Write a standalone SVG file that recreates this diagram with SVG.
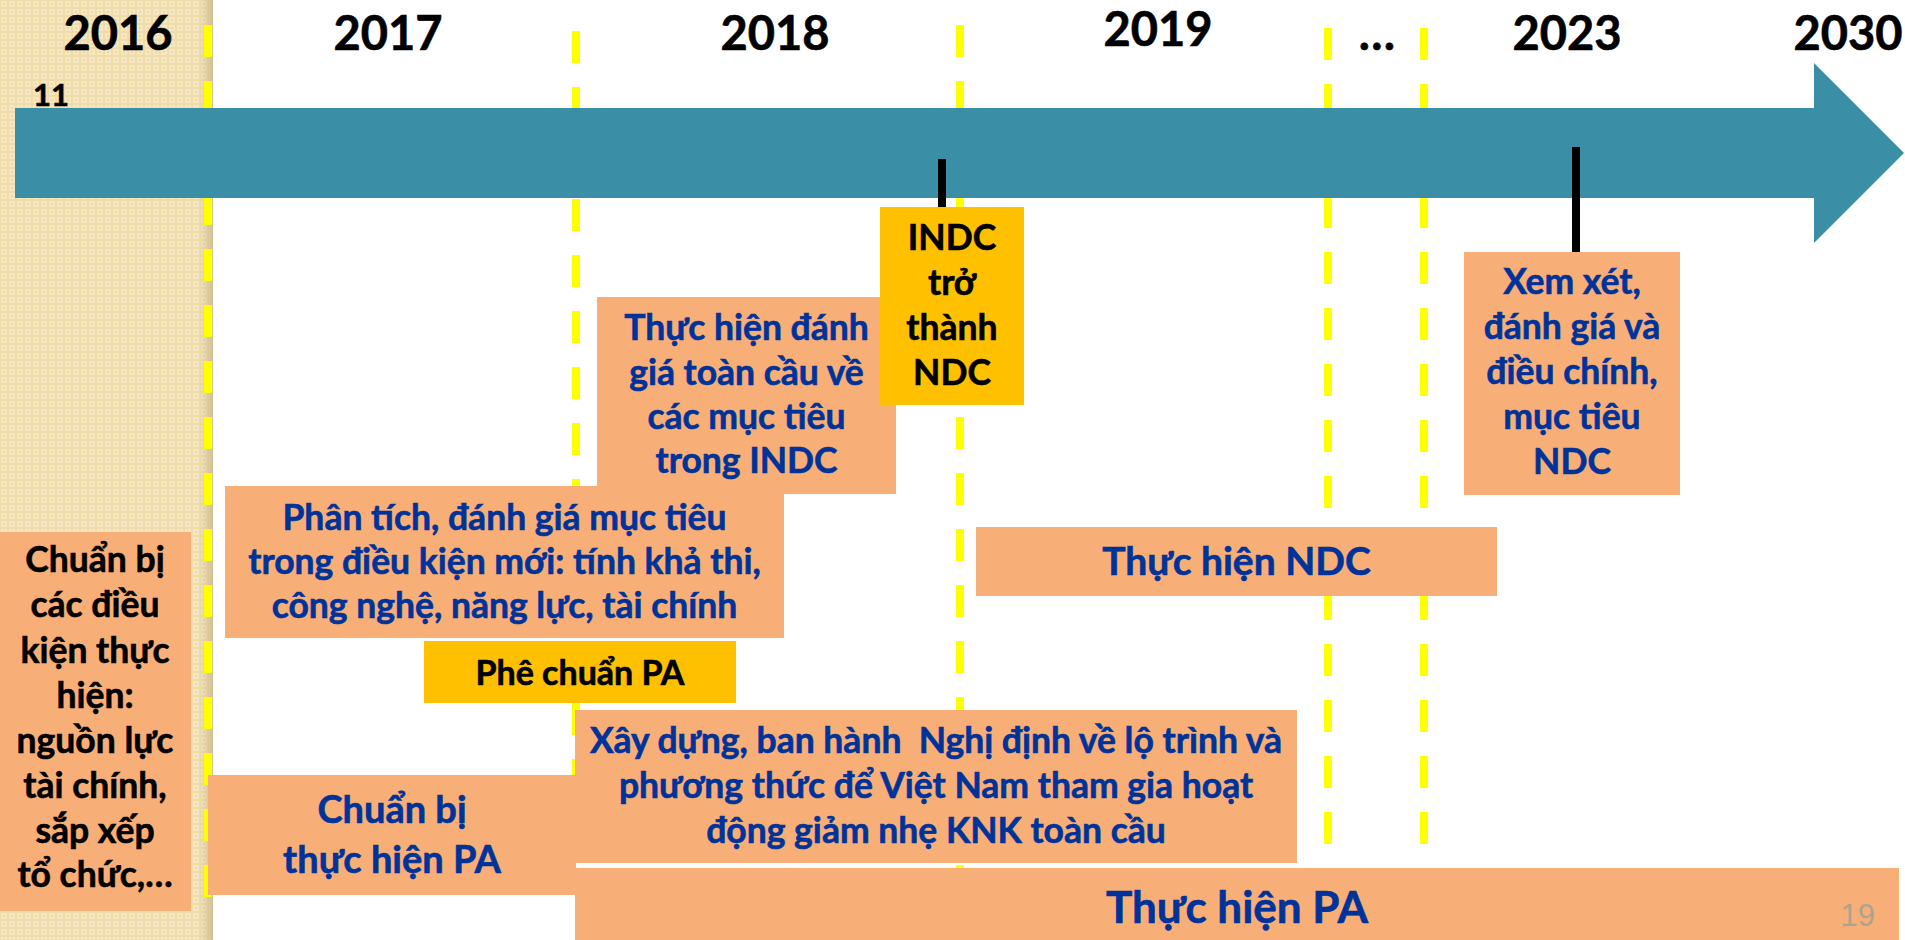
<svg xmlns="http://www.w3.org/2000/svg" width="1905" height="940" viewBox="0 0 1905 940">
<style>
.t{font-family:Lato,"Liberation Sans",sans-serif;font-weight:bold;text-anchor:middle;stroke-width:0.6px}
.yr{font-size:47px;fill:#000;stroke:#000}
.b{font-size:35.5px;fill:#003399;stroke:#003399}
.k{font-size:35.5px;fill:#000;stroke:#000}
.box{fill:#F8AE77}
.gold{fill:#FFC000}
.dash{stroke:#FFFF00;stroke-width:8;stroke-dasharray:32 24;fill:none}
.tick{stroke:#000;stroke-width:8}
</style>
<defs>
<pattern id="pat" width="8" height="8" patternUnits="userSpaceOnUse">
<rect width="8" height="8" fill="#EFDCAB"/>
<rect x="1" y="1" width="6" height="6" fill="#F6E7C1"/>
<rect x="3" y="3" width="2" height="2" fill="#ECD8A8"/>
</pattern>
<linearGradient id="edge" x1="0" x2="1" y1="0" y2="0">
<stop offset="0" stop-color="#D8C698" stop-opacity="0"/>
<stop offset="1" stop-color="#CDBB8E" stop-opacity="0.9"/>
</linearGradient>
</defs>
<rect width="1905" height="940" fill="#FFFFFF"/>
<g id="panel">
<rect x="0" y="0" width="213" height="940" fill="url(#pat)"/>
<rect x="198" y="0" width="15" height="940" fill="url(#edge)"/>
</g>
<g id="connectors">
<line class="dash" x1="208" y1="25" x2="208" y2="897"/>
<line class="dash" x1="576" y1="31" x2="576" y2="868"/>
<line class="dash" x1="960" y1="25" x2="960" y2="868"/>
<line class="dash" x1="1328" y1="28" x2="1328" y2="844"/>
<line class="dash" x1="1424" y1="28" x2="1424" y2="844"/>
</g>
<g id="timeline">
<polygon points="15,108 1814,108 1814,63 1904,153 1814,243 1814,198 15,198" fill="#3A8FA6"/>
<line class="tick" x1="942" y1="159" x2="942" y2="207"/>
<line class="tick" x1="1576" y1="147" x2="1576" y2="252"/>
</g>
<g id="years">
<text class="t yr" x="118" y="50">2016</text>
<text class="t yr" x="388" y="50">2017</text>
<text class="t yr" x="775" y="50">2018</text>
<text class="t yr" x="1158" y="46">2019</text>
<text class="t yr" x="1377" y="50">…</text>
<text class="t yr" x="1567" y="50">2023</text>
<text class="t yr" x="1848" y="50">2030</text>
<text class="t yr" x="51" y="106" style="font-size:31px">11</text>
</g>
<g id="n-danhgia">
<rect class="box" x="597" y="297" width="299" height="197"/>
<text class="t b" x="746.5" y="340">Thực hiện đánh</text>
<text class="t b" x="746.5" y="385">giá toàn cầu về</text>
<text class="t b" x="746.5" y="429">các mục tiêu</text>
<text class="t b" x="746.5" y="473">trong INDC</text>
</g>
<g id="n-indc">
<rect class="gold" x="880" y="207" width="144" height="198"/>
<text class="t k" x="952" y="250">INDC</text>
<text class="t k" x="952" y="295">trở</text>
<text class="t k" x="952" y="340">thành</text>
<text class="t k" x="952" y="385">NDC</text>
</g>
<g id="n-phantich">
<rect class="box" x="225" y="486" width="559" height="152"/>
<text class="t b" x="504.5" y="530">Phân tích, đánh giá mục tiêu</text>
<text class="t b" x="504.5" y="574">trong điều kiện mới: tính khả thi,</text>
<text class="t b" x="504.5" y="618">công nghệ, năng lực, tài chính</text>
</g>
<g id="n-pheduyet">
<rect class="gold" x="424" y="641" width="312" height="62"/>
<text class="t k" x="580" y="685" style="font-size:34px">Phê chuẩn PA</text>
</g>
<g id="n-xemxet">
<rect class="box" x="1464" y="252" width="216" height="243"/>
<text class="t b" x="1572" y="294">Xem xét,</text>
<text class="t b" x="1572" y="339">đánh giá và</text>
<text class="t b" x="1572" y="384">điều chính,</text>
<text class="t b" x="1572" y="429">mục tiêu</text>
<text class="t b" x="1572" y="474">NDC</text>
</g>
<g id="n-ndc">
<rect class="box" x="976" y="527" width="521" height="69"/>
<text class="t b" x="1236.5" y="575" style="font-size:39px">Thực hiện NDC</text>
</g>
<g id="n-dieukien">
<rect class="box" x="0" y="532" width="191" height="379"/>
<text class="t k" x="95" y="572">Chuẩn bị</text>
<text class="t k" x="95" y="617">các điều</text>
<text class="t k" x="95" y="663">kiện thực</text>
<text class="t k" x="95" y="708">hiện:</text>
<text class="t k" x="95" y="753">nguồn lực</text>
<text class="t k" x="95" y="798">tài chính,</text>
<text class="t k" x="95" y="843">sắp xếp</text>
<text class="t k" x="95" y="887">tổ chức,…</text>
</g>
<g id="n-nghidinh">
<rect class="box" x="575" y="710" width="722" height="153"/>
<text class="t b" x="936" y="753" xml:space="preserve">Xây dựng, ban hành  Nghị định về lộ trình và</text>
<text class="t b" x="936" y="798">phương thức để Việt Nam tham gia hoạt</text>
<text class="t b" x="936" y="843">động giảm nhẹ KNK toàn cầu</text>
</g>
<g id="n-chuanbi">
<rect class="box" x="208" y="775" width="368" height="120"/>
<text class="t b" x="392" y="823" style="font-size:38px">Chuẩn bị</text>
<text class="t b" x="392" y="873" style="font-size:38px">thực hiện PA</text>
</g>
<g id="n-thuchien">
<rect class="box" x="575" y="868" width="1324" height="72"/>
<text class="t b" x="1237" y="923" style="font-size:44px">Thực hiện PA</text>
<text x="1875" y="926" style="font-family:'Liberation Sans',Arial,sans-serif;font-size:31px;fill:#AAA58E;text-anchor:end">19</text>
</g>
</svg>
